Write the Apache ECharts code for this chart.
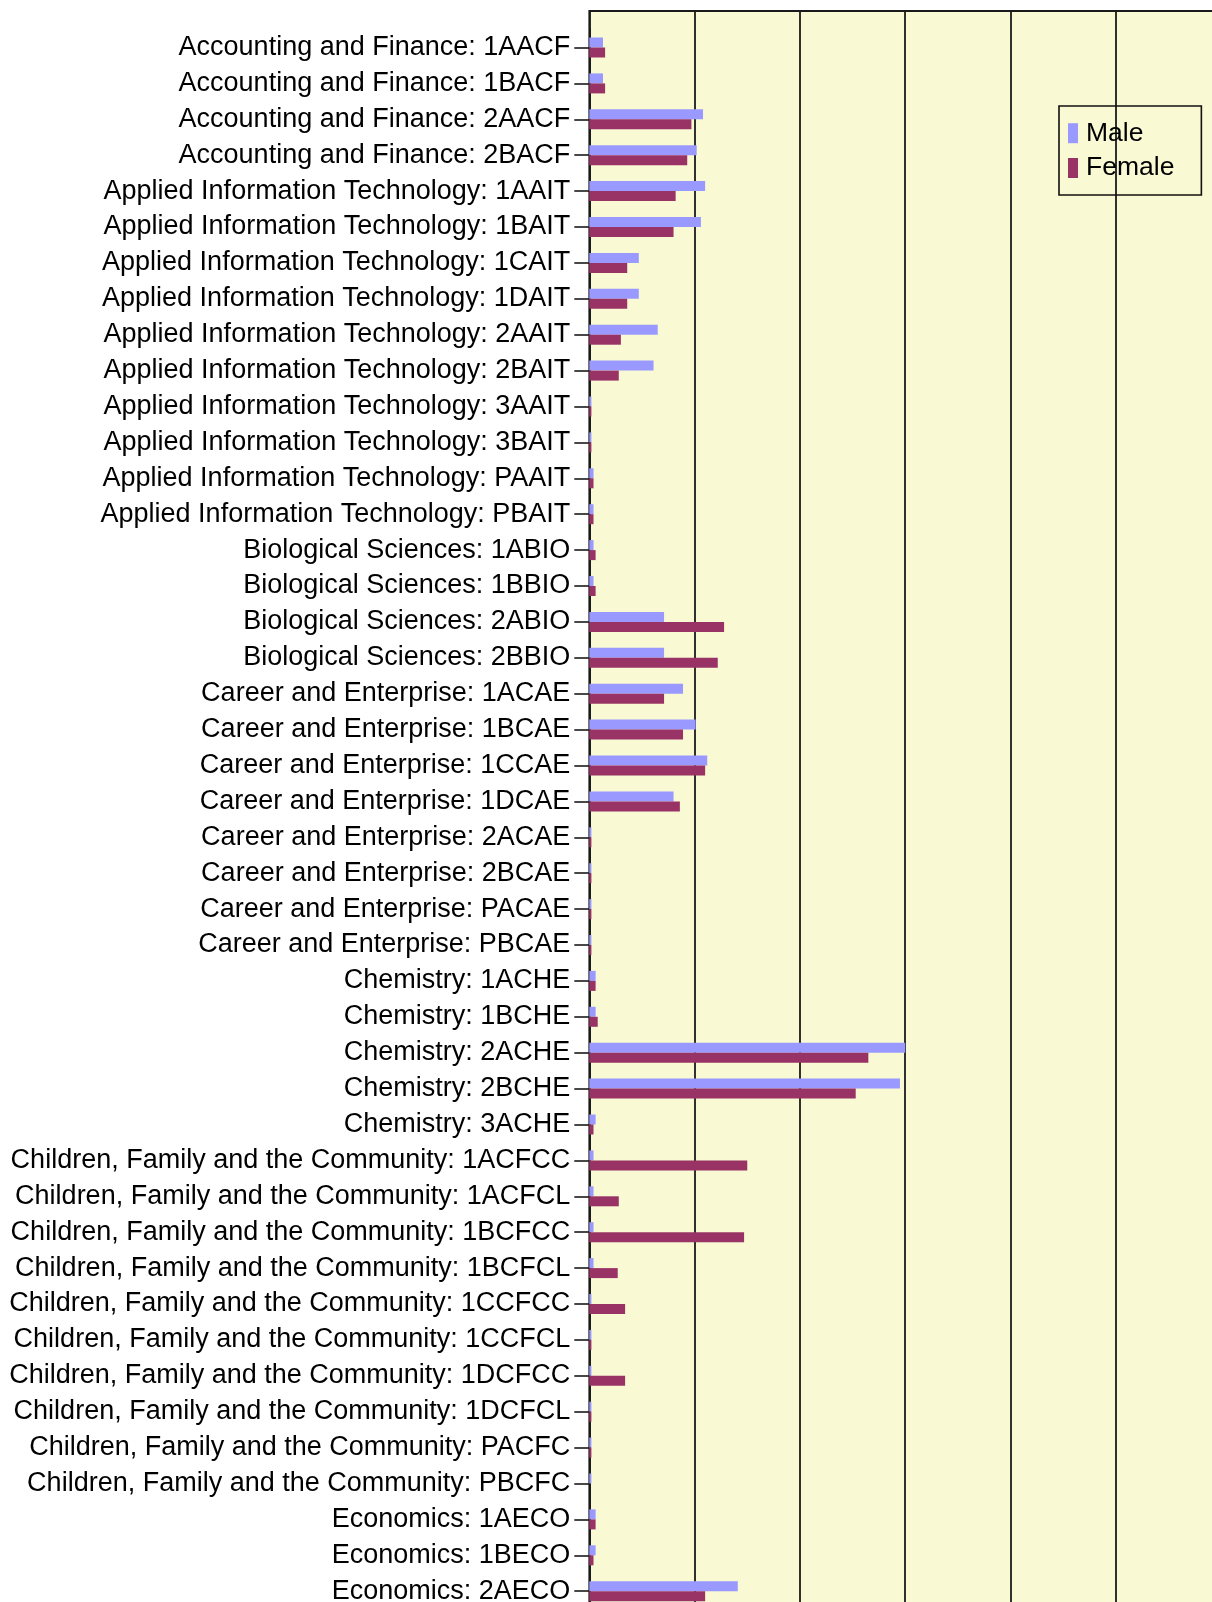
<!DOCTYPE html>
<html>
<head>
<meta charset="utf-8">
<script src="https://cdn.jsdelivr.net/npm/echarts@6/dist/echarts.min.js"></script>
<style>
html,body{margin:0;padding:0;background:#ffffff;}
#chart{width:1212px;height:1602px;}
</style>
</head>
<body>
<div id="chart"></div>
<script>
const categories = [
  "Accounting and Finance: 1AACF",
  "Accounting and Finance: 1BACF",
  "Accounting and Finance: 2AACF",
  "Accounting and Finance: 2BACF",
  "Applied Information Technology: 1AAIT",
  "Applied Information Technology: 1BAIT",
  "Applied Information Technology: 1CAIT",
  "Applied Information Technology: 1DAIT",
  "Applied Information Technology: 2AAIT",
  "Applied Information Technology: 2BAIT",
  "Applied Information Technology: 3AAIT",
  "Applied Information Technology: 3BAIT",
  "Applied Information Technology: PAAIT",
  "Applied Information Technology: PBAIT",
  "Biological Sciences: 1ABIO",
  "Biological Sciences: 1BBIO",
  "Biological Sciences: 2ABIO",
  "Biological Sciences: 2BBIO",
  "Career and Enterprise: 1ACAE",
  "Career and Enterprise: 1BCAE",
  "Career and Enterprise: 1CCAE",
  "Career and Enterprise: 1DCAE",
  "Career and Enterprise: 2ACAE",
  "Career and Enterprise: 2BCAE",
  "Career and Enterprise: PACAE",
  "Career and Enterprise: PBCAE",
  "Chemistry: 1ACHE",
  "Chemistry: 1BCHE",
  "Chemistry: 2ACHE",
  "Chemistry: 2BCHE",
  "Chemistry: 3ACHE",
  "Children, Family and the Community: 1ACFCC",
  "Children, Family and the Community: 1ACFCL",
  "Children, Family and the Community: 1BCFCC",
  "Children, Family and the Community: 1BCFCL",
  "Children, Family and the Community: 1CCFCC",
  "Children, Family and the Community: 1CCFCL",
  "Children, Family and the Community: 1DCFCC",
  "Children, Family and the Community: 1DCFCL",
  "Children, Family and the Community: PACFC",
  "Children, Family and the Community: PBCFC",
  "Economics: 1AECO",
  "Economics: 1BECO",
  "Economics: 2AECO"
];

const maleValues = [
  13, 13, 108, 102,
  110, 106, 47, 47, 65, 61, 2, 2, 4, 4,
  4, 4, 71, 71,
  89, 101, 112, 80, 2, 2, 2, 2,
  6, 6, 300, 295, 6,
  4, 4, 4, 4, 2, 2, 2, 2, 2, 2,
  6, 6, 141
];

const femaleValues = [
  15, 15, 97, 93,
  82, 80, 36, 36, 30, 28, 2, 2, 4, 4,
  6, 6, 128, 122,
  71, 89, 110, 86, 2, 2, 2, 2,
  6, 8, 265, 253, 4,
  150, 28, 147, 27, 34, 2, 34, 2, 2, 0,
  6, 4, 110
];

const seriesNames = ["Male", "Female"];
const xMin = 0;
const xMax = 600;
const xInterval = 100;

const FONT = "'Liberation Sans', Arial, Helvetica, sans-serif";
const LEFT = 589.3;
const PLOT_W = 631.8;

const chart = echarts.init(document.getElementById('chart'), null, {renderer: 'canvas'});

const option = {
  backgroundColor: '#ffffff',
  animation: false,
  textStyle: {fontFamily: FONT},
  legend: {
    data: seriesNames,
    orient: 'vertical',
    align: 'left',
    left: 1059,
    top: 106,
    padding: [13.7, 27, 13.5, 9],
    itemGap: 7.8,
    itemWidth: 10,
    itemHeight: 20,
    icon: 'rect',
    borderColor: '#111111',
    borderWidth: 1.6,
    backgroundColor: 'transparent',
    textStyle: {fontSize: 26.5, color: '#000000', fontFamily: FONT, padding: [0, 0, 0, 3]}
  },
  grid: [
    {
      left: LEFT, top: 11, width: PLOT_W, height: 1640,
      outerBoundsMode: 'none',
      containLabel: false,
      show: true,
      backgroundColor: '#f9f9d4',
      borderColor: '#1a1a1a',
      borderWidth: 1.8
    },
    {
      left: LEFT, top: 29.55, width: PLOT_W, height: 1579.6,
      outerBoundsMode: 'none',
      containLabel: false,
      show: false
    }
  ],
  xAxis: [
    {
      type: 'value', gridIndex: 0,
      min: xMin, max: xMax, interval: xInterval,
      axisLine: {show: false},
      axisTick: {show: false},
      axisLabel: {show: false},
      splitLine: {show: true, lineStyle: {color: '#1a1a1a', width: 1.8}}
    },
    {
      type: 'value', gridIndex: 1,
      min: xMin, max: xMax, interval: xInterval,
      axisLine: {show: false},
      axisTick: {show: false},
      axisLabel: {show: false},
      splitLine: {show: false}
    }
  ],
  yAxis: [
    {
      type: 'value', gridIndex: 0,
      axisLine: {show: false}, axisTick: {show: false},
      axisLabel: {show: false}, splitLine: {show: false}
    },
    {
      type: 'category', gridIndex: 1,
      data: categories,
      inverse: true,
      axisLine: {show: true, onZero: false, lineStyle: {color: '#1a1a1a', width: 1.8}},
      axisTick: {show: true, alignWithLabel: true, length: 15, lineStyle: {color: '#1a1a1a', width: 1.6}},
      axisLabel: {show: true, interval: 0, margin: 19, fontSize: 27, color: '#000000', fontFamily: FONT},
      splitLine: {show: false}
    }
  ],
  series: [
    {
      name: seriesNames[0], type: 'bar',
      xAxisIndex: 1, yAxisIndex: 1,
      data: maleValues,
      barWidth: 10, barGap: '0%',
      itemStyle: {color: '#9999ff'}
    },
    {
      name: seriesNames[1], type: 'bar',
      xAxisIndex: 1, yAxisIndex: 1,
      data: femaleValues,
      barWidth: 10, barGap: '0%',
      itemStyle: {color: '#993366'}
    }
  ]
};

chart.setOption(option);
</script>
</body>
</html>
